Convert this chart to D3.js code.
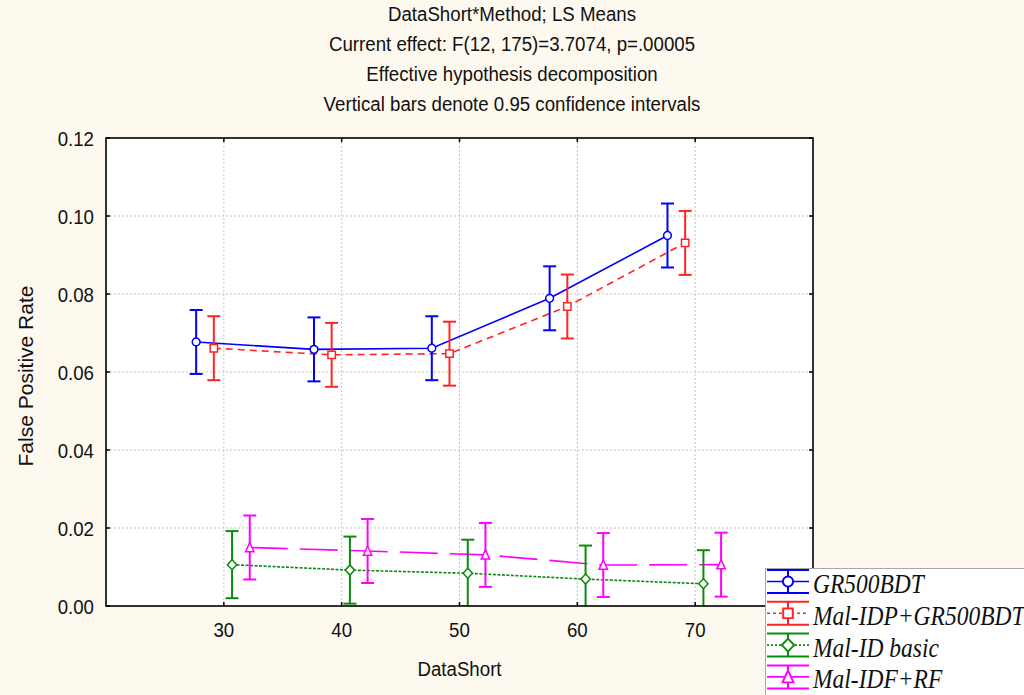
<!DOCTYPE html>
<html>
<head>
<meta charset="utf-8">
<script src="https://cdn.jsdelivr.net/npm/d3@7"></script>
<style>
  body { margin: 0; background: #fdf9ef; }
  svg { display: block; }
</style>
</head>
<body>
<svg id="chart" width="1024" height="695"></svg>
<script>
// chart values
const dataShort = [30, 40, 50, 60, 70];
const methodNames = ['GR500BDT', 'Mal-IDP+GR500BDT', 'Mal-ID basic', 'Mal-IDF+RF'];
const gr500bdtMeans = [0.0677, 0.0658, 0.0661, 0.0789, 0.0950];
const gr500bdtCi = [0.0082, 0.0082, 0.0082, 0.0082, 0.0082];
const malIdpMeans = [0.0661, 0.0644, 0.0647, 0.0768, 0.0931];
const malIdpCi = [0.0082, 0.0082, 0.0082, 0.0082, 0.0082];
const malIdBasicMeans = [0.0106, 0.0092, 0.0084, 0.0069, 0.0057];
const malIdBasicCi = [0.0086, 0.0086, 0.0086, 0.0086, 0.0086];
const malIdfRfMeans = [0.0150, 0.0141, 0.0131, 0.0105, 0.0106];
const malIdfRfCi = [0.0082, 0.0082, 0.0082, 0.0082, 0.0082];
const xTicks = [30, 40, 50, 60, 70];
const yTicks = [0.00, 0.02, 0.04, 0.06, 0.08, 0.10, 0.12];
const titleLines = [
  'DataShort*Method; LS Means',
  'Current effect: F(12, 175)=3.7074, p=.00005',
  'Effective hypothesis decomposition',
  'Vertical bars denote 0.95 confidence intervals'
];

// look of each series: colour, line dash, legend dash, marker, sideways dodge (in DataShort units)
const seriesStyle = [
  {color: '#0000ff', dash: null, keyDash: null, marker: 'circle', dodge: -2.35},
  {color: '#ff2424', dash: '7,5', keyDash: '3,3', marker: 'square', dodge: -0.85},
  {color: '#0c8a0c', dash: '3,1.5', keyDash: '2,2', marker: 'diamond', dodge: 0.7},
  {color: '#ff00ff', dash: '38,12', keyDash: null, marker: 'triangle', dodge: 2.2}
];

const series = [
  [gr500bdtMeans, gr500bdtCi],
  [malIdpMeans, malIdpCi],
  [malIdBasicMeans, malIdBasicCi],
  [malIdfRfMeans, malIdfRfCi]
].map(([means, ci], i) => ({
  name: methodNames[i],
  style: seriesStyle[i],
  points: dataShort.map((ds, j) => ({x: ds, mean: means[j], lo: means[j] - ci[j], hi: means[j] + ci[j]}))
}));

const FONT = '"Liberation Sans", Arial, sans-serif';
const SQUEEZE = 0.89;
const svg = d3.select('#chart');
const plot = {left: 106, top: 138, right: 813, bottom: 606};

const x = d3.scaleLinear().domain([20, 80]).range([plot.left, plot.right]);
const y = d3.scaleLinear().domain([0, 0.12]).range([plot.bottom, plot.top]);

// marker path centred on 0,0
function markerPath(kind) {
  if (kind === 'circle') {
    const p = d3.path();
    p.arc(0, 0, 3.9, 0, 2 * Math.PI);
    return p.toString();
  }
  if (kind === 'square') return 'M-3.7,-3.7H3.7V3.7H-3.7Z';
  if (kind === 'diamond') return 'M0,-5L4.7,0L0,5L-4.7,0Z';
  return 'M0,-5L4.2,4.2H-4.2Z';
}

// text that is a bit narrower than normal, like the original export
function squeezedText(g, tx, ty, str, size, anchor) {
  return g.append('text')
    .attr('transform', `translate(${tx},${ty}) scale(${SQUEEZE},1)`)
    .attr('text-anchor', anchor || 'middle')
    .style('font-family', FONT)
    .style('font-size', `${size}px`)
    .attr('fill', '#111')
    .text(str);
}

// titles
titleLines.forEach((line, i) => squeezedText(svg, 512, 21 + i * 30, line, 21));

// plot background and grid
svg.append('rect')
  .attr('x', plot.left).attr('y', plot.top)
  .attr('width', plot.right - plot.left).attr('height', plot.bottom - plot.top)
  .attr('fill', '#fff');

const grid = svg.append('g').attr('stroke', '#c4c4c4').attr('stroke-dasharray', '2,2');
grid.selectAll('.gx').data(xTicks).enter().append('line')
  .attr('x1', d => x(d)).attr('x2', d => x(d))
  .attr('y1', plot.top).attr('y2', plot.bottom);
grid.selectAll('.gy').data(yTicks.slice(1, -1)).enter().append('line')
  .attr('x1', plot.left).attr('x2', plot.right)
  .attr('y1', d => y(d)).attr('y2', d => y(d));

svg.append('clipPath').attr('id', 'clip')
  .append('rect')
  .attr('x', plot.left).attr('y', plot.top)
  .attr('width', plot.right - plot.left).attr('height', plot.bottom - plot.top);

const marks = svg.append('g').attr('clip-path', 'url(#clip)');

// connecting lines
const line = d3.line().x(d => d.px).y(d => y(d.mean));
series.forEach(s => {
  s.points.forEach(p => { p.px = x(p.x + s.style.dodge); });
  marks.append('path')
    .attr('d', line(s.points))
    .attr('fill', 'none')
    .attr('stroke', s.style.color)
    .attr('stroke-width', 1.6)
    .attr('stroke-dasharray', s.style.dash);
});

// error bars and markers
const CAP = 6.5;
series.forEach(s => {
  const g = marks.append('g').attr('stroke', s.style.color).attr('stroke-width', 2);
  const bars = g.selectAll('.bar').data(s.points).enter().append('g');
  bars.append('line')
    .attr('x1', d => d.px).attr('x2', d => d.px)
    .attr('y1', d => y(d.lo)).attr('y2', d => y(d.hi));
  bars.append('line')
    .attr('x1', d => d.px - CAP).attr('x2', d => d.px + CAP)
    .attr('y1', d => y(d.hi)).attr('y2', d => y(d.hi));
  bars.append('line')
    .attr('x1', d => d.px - CAP).attr('x2', d => d.px + CAP)
    .attr('y1', d => y(d.lo)).attr('y2', d => y(d.lo));
  g.selectAll('.marker').data(s.points).enter().append('path')
    .attr('d', markerPath(s.style.marker))
    .attr('transform', d => `translate(${d.px},${y(d.mean)})`)
    .attr('fill', '#fff')
    .attr('stroke-width', 1.5);
});

// frame and inside ticks
const frame = svg.append('g').attr('stroke', '#000');
frame.append('rect')
  .attr('x', plot.left).attr('y', plot.top)
  .attr('width', plot.right - plot.left).attr('height', plot.bottom - plot.top)
  .attr('fill', 'none').attr('stroke-width', 1.6);
frame.selectAll('.tb').data(xTicks).enter().append('path')
  .attr('d', d => `M${x(d)},${plot.bottom}v-4M${x(d)},${plot.top}v4`)
  .attr('stroke-width', 1.5);
frame.selectAll('.tl').data(yTicks).enter().append('path')
  .attr('d', d => `M${plot.left},${y(d)}h4M${plot.right},${y(d)}h-4`)
  .attr('stroke-width', 1.5);

// tick labels
xTicks.forEach(t => squeezedText(svg, x(t), 637, d3.format('d')(t), 21));
yTicks.forEach(t => squeezedText(svg, 94, y(t) + 7.5, d3.format('.2f')(t), 21, 'end'));

// axis titles
squeezedText(svg, (plot.left + plot.right) / 2, 676, 'DataShort', 21);
svg.append('text')
  .attr('transform', `translate(33,${(plot.top + plot.bottom) / 2 + 4}) rotate(-90)`)
  .attr('text-anchor', 'middle')
  .style('font-family', FONT)
  .style('font-size', '21px')
  .attr('fill', '#111')
  .text('False Positive Rate');

// legend, sitting over the lower right corner of the plot
const legend = svg.append('g');
legend.append('rect')
  .attr('x', 765.5).attr('y', 568.5)
  .attr('width', 270).attr('height', 140)
  .attr('fill', '#fff').attr('stroke', '#a8a8a8');

const entries = legend.selectAll('.entry').data(series).enter().append('g')
  .attr('transform', (d, i) => `translate(788,${581.5 + i * 31.8})`);
entries.each(function (s) {
  const g = d3.select(this).attr('stroke', s.style.color);
  g.append('path').attr('d', 'M-21,-11.5H21M-21,11.5H21M0,-11.5V11.5').attr('stroke-width', 2);
  g.append('line').attr('x1', -21).attr('x2', 21)
    .attr('stroke-width', 1.6).attr('stroke-dasharray', s.style.keyDash);
  g.append('path').attr('d', markerPath(s.style.marker))
    .attr('transform', 'scale(1.3)')
    .attr('fill', '#fff').attr('stroke-width', 1.5);
  g.append('text')
    .attr('transform', 'translate(25,11.5) scale(0.87,1)')
    .attr('stroke', 'none')
    .attr('fill', '#111')
    .style('font-family', '"Liberation Serif", "Times New Roman", serif')
    .style('font-style', 'italic')
    .style('font-size', '27px')
    .text(s.name);
});
</script>
</body>
</html>
